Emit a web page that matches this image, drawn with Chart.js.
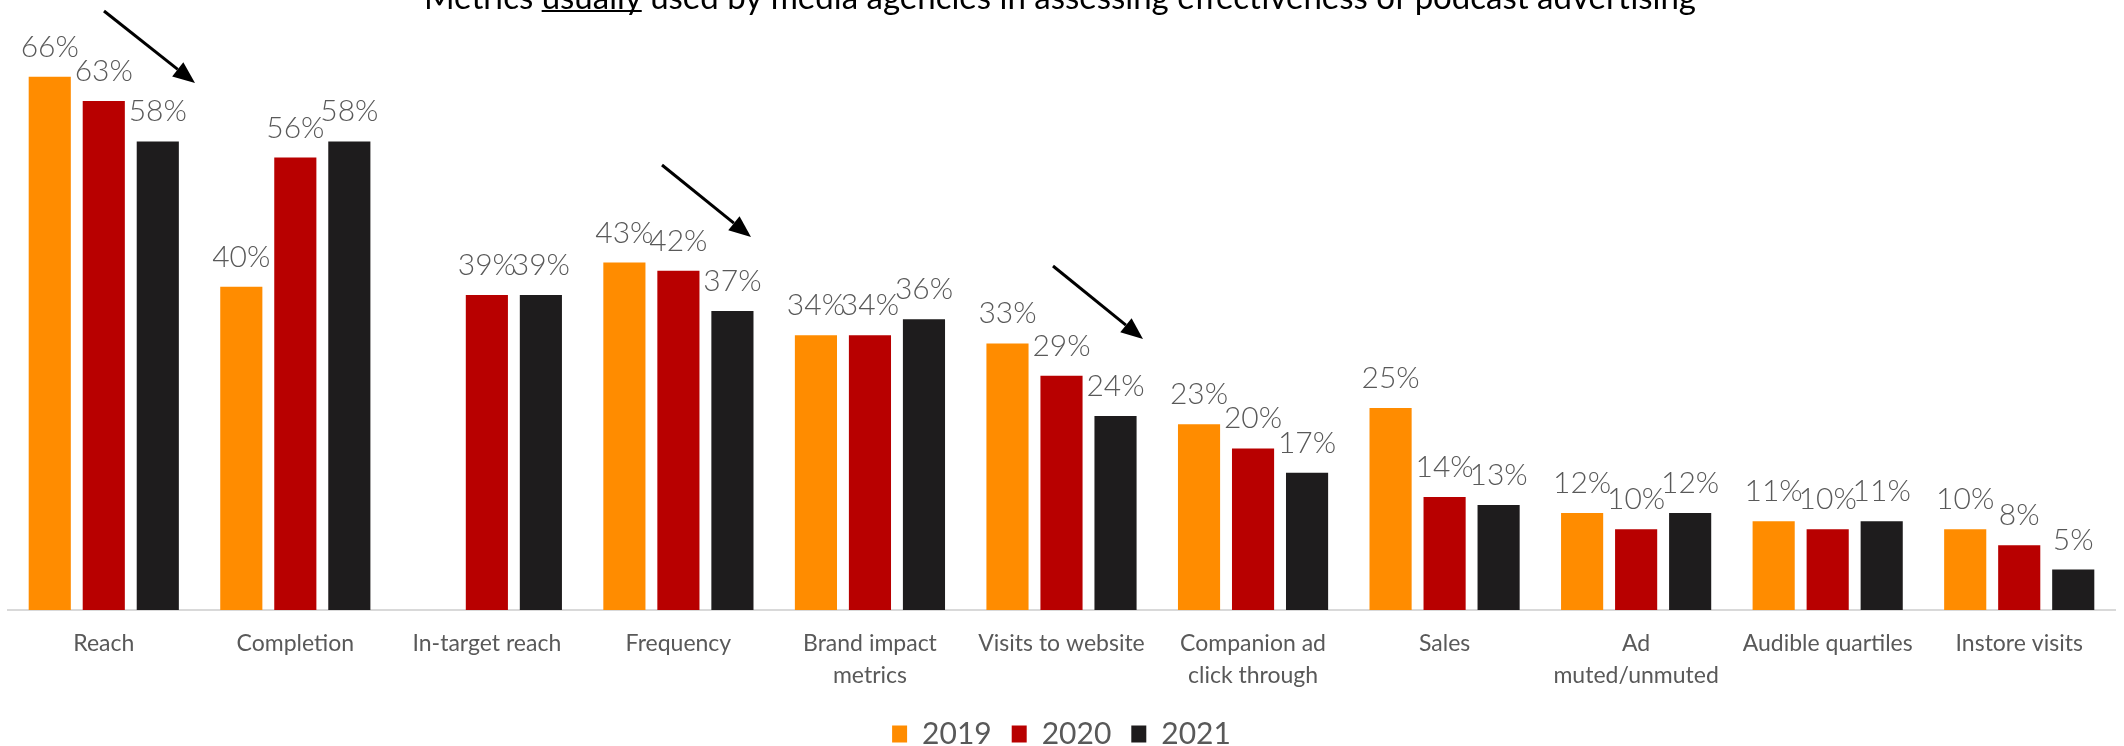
<!DOCTYPE html>
<html>
<head>
<meta charset="utf-8">
<script src="https://cdn.jsdelivr.net/npm/chart.js@4.4.1/dist/chart.umd.min.js"></script>
<style>
  html, body { margin: 0; padding: 0; background: #fff; overflow: hidden; }
  #wrap { position: relative; width: 2124px; height: 759px; }
</style>
</head>
<body>
<div id="wrap"><canvas id="chart"></canvas></div>
<script>
// ─── Data ─────────────────────────────────────────────────────────────────────

const categories = [
  "Reach",
  "Completion",
  "In-target reach",
  "Frequency",
  ["Brand impact", "metrics"],
  "Visits to website",
  ["Companion ad", "click through"],
  "Sales",
  ["Ad", "muted/unmuted"],
  "Audible quartiles",
  "Instore visits",
];
const years = ["2019", "2020", "2021"];
const values2019 = [66, 40, null, 43, 34, 33, 23, 25, 12, 11, 10];
const values2020 = [63, 56, 39, 42, 34, 29, 20, 14, 10, 10, 8];
const values2021 = [58, 58, 39, 37, 36, 24, 17, 13, 12, 11, 5];
const seriesColors = ["#FF8C00", "#B80000", "#1E1C1D"];

const titleBefore = "Metrics ";
const titleUnderlined = "usually";
const titleAfter = " used by media agencies in assessing effectiveness of podcast advertising";

const FONT = "Lato, 'Open Sans', sans-serif";
const GREY = "#595959";

// ─── Plugins ──────────────────────────────────────────────────────────────────

// value labels above each bar
const valueLabels = {
  id: "valueLabels",
  afterDatasetsDraw(chart) {
    const ctx = chart.ctx;
    ctx.save();
    ctx.font = `300 30px ${FONT}`;
    ctx.fillStyle = GREY;
    ctx.textAlign = "center";
    ctx.textBaseline = "alphabetic";
    chart.data.datasets.forEach((ds, i) => {
      const meta = chart.getDatasetMeta(i);
      meta.data.forEach((bar, j) => {
        const v = ds.data[j];
        if (v == null) return;
        ctx.fillText(v + "%", bar.x, bar.y - 20);
      });
    });
    ctx.restore();
  },
};

// title (partly cut off at the top) + trend arrows
const annotations = {
  id: "annotations",
  afterDraw(chart) {
    const ctx = chart.ctx;
    ctx.save();
    ctx.font = `400 33px ${FONT}`;
    ctx.fillStyle = "#000";
    ctx.textBaseline = "alphabetic";
    const wA = ctx.measureText(titleBefore).width;
    const wU = ctx.measureText(titleUnderlined).width;
    const wB = ctx.measureText(titleAfter).width;
    const x = 1060 - (wA + wU + wB) / 2;
    const y = 9;
    ctx.fillText(titleBefore, x, y);
    ctx.fillText(titleUnderlined, x + wA, y);
    ctx.fillText(titleAfter, x + wA + wU, y);
    ctx.fillRect(x + wA, y + 1, wU, 2);

    const arrows = [
      [104, 11, 195, 83],
      [662, 165, 751, 237],
      [1053, 266, 1143, 339],
    ];
    ctx.strokeStyle = "#000";
    ctx.lineWidth = 3;
    arrows.forEach(([x1, y1, x2, y2]) => {
      const ang = Math.atan2(y2 - y1, x2 - x1);
      const len = 22, half = 9;
      const bx = x2 - len * Math.cos(ang), by = y2 - len * Math.sin(ang);
      ctx.beginPath();
      ctx.moveTo(x1, y1);
      ctx.lineTo(bx, by);
      ctx.stroke();
      ctx.beginPath();
      ctx.moveTo(x2, y2);
      ctx.lineTo(bx + half * Math.sin(ang), by - half * Math.cos(ang));
      ctx.lineTo(bx - half * Math.sin(ang), by + half * Math.cos(ang));
      ctx.closePath();
      ctx.fill();
    });
    ctx.restore();
  },
};

// ─── Chart ────────────────────────────────────────────────────────────────────

const datasets = [values2019, values2020, values2021].map((vals, i) => ({
  label: years[i],
  data: vals,
  backgroundColor: seriesColors[i],
  categoryPercentage: 0.846,
  barPercentage: 0.78,
}));

new Chart(document.getElementById("chart"), {
  type: "bar",
  data: { labels: categories, datasets },
  options: {
    responsive: true,
    maintainAspectRatio: false,
    animation: false,
    layout: { padding: { top: 0, left: 8, right: 9, bottom: 0 } },
    plugins: {
      tooltip: { enabled: false },
      legend: {
        position: "bottom",
        labels: {
          boxWidth: 15,
          boxHeight: 17,
          padding: 20,
          color: GREY,
          font: { family: FONT, size: 30 },
        },
      },
    },
    scales: {
      x: {
        grid: { display: false, drawTicks: false },
        border: { display: true, color: "#D9D9D9", width: 2 },
        ticks: {
          color: GREY,
          padding: 17,
          maxRotation: 0,
          autoSkip: false,
          font: { family: FONT, size: 23, lineHeight: 1.4 },
        },
        afterFit(scale) { scale.height = 89; },
      },
      y: {
        display: false,
        min: 0,
        max: 75.5,
      },
    },
  },
  plugins: [valueLabels, annotations],
});
</script>
</body>
</html>
